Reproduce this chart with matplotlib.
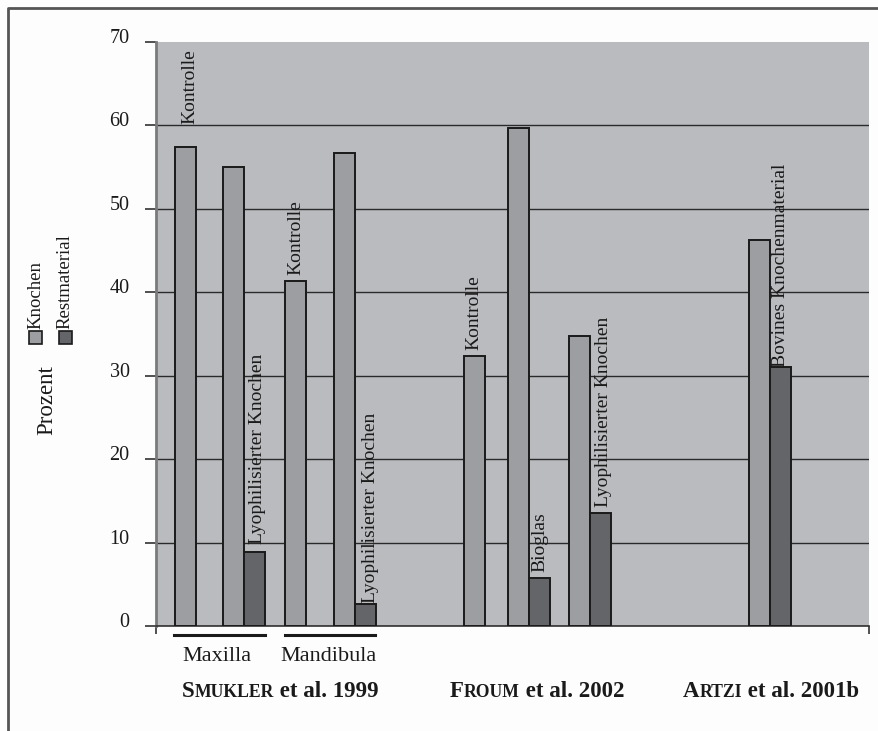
import matplotlib.pyplot as plt
from matplotlib.patches import Rectangle
from matplotlib.transforms import ScaledTranslation

plt.rcParams['font.family'] = ['Liberation Serif', 'DejaVu Serif']

# data (Prozent)
bar_labels = ["Kontrolle", "Lyophilisierter Knochen", "Kontrolle", "Lyophilisierter Knochen",
              "Kontrolle", "Bioglas", "Lyophilisierter Knochen", "Bovines Knochenmaterial"]
knochen = [57.4, 55.0, 41.3, 56.7, 32.4, 59.7, 34.8, 46.3]
restmaterial = [None, 8.85, None, 2.6, None, 5.7, 13.6, 31.0]
subgroups = ["Maxilla", "Mandibula"]
studies = [("S", "MUKLER", " et al. 1999"), ("F", "ROUM", " et al. 2002"), ("A", "RTZI", " et al. 2001b")]

# layout (pixel-like x units of the plot)
x_knochen = [186, 233.5, 296, 345, 474.5, 518.5, 580, 759.5]
bar_w = 21
label_x = [189.5, 257.5, 296, 371, 473.5, 540, 604, 781]
label_y = [60.2, 9.8, 42.1, 2.7, 33.1, 6.5, 14.3, 31.0]

W, H = 879, 731
c_bg = '#babbbf'
c_kn = '#9d9ea2'
c_rest = '#646569'

fig = plt.figure(figsize=(8.79, 7.31), dpi=100, facecolor='#fdfdfd')
ax = fig.add_axes([156 / W, 1 - 626 / H, 713 / W, 584 / H])
ax.set_facecolor(c_bg)


def fx(x):
    return x / W


def fy(y):
    return 1 - y / H


# bars
ax.bar(x_knochen, knochen, width=bar_w, color=c_kn, edgecolor='#1a1a1a', linewidth=1.4, zorder=3)
xr = [x + bar_w for x, v in zip(x_knochen, restmaterial) if v is not None]
vr = [v for v in restmaterial if v is not None]
ax.bar(xr, vr, width=bar_w, color=c_rest, edgecolor='#1a1a1a', linewidth=1.4, zorder=3)

for t, x, y in zip(bar_labels, label_x, label_y):
    ax.text(x, y, t, rotation=90, ha='center', va='bottom', fontsize=14, color='#1a1a1a', zorder=5)

ax.set_xlim(156, 869)
ax.set_ylim(0, 70)
ax.set_yticks(range(0, 80, 10))
ax.set_xticks([156, 869])
ax.set_xticklabels([])
ax.tick_params(axis='y', length=8, width=1.2, color='#333333', labelsize=14.5, pad=11, labelcolor='#1a1a1a')
ax.tick_params(axis='x', length=6, width=1.2, color='#333333')
ax.yaxis.grid(True, color='#2a2a2a', linewidth=1)
ax.get_ygridlines()[-1].set_visible(False)
ax.set_axisbelow(True)
for lab in ax.get_yticklabels():
    lab.set_transform(lab.get_transform() + ScaledTranslation(0, 6 / 100, fig.dpi_scale_trans))

ax.spines['top'].set_visible(False)
ax.spines['right'].set_visible(False)
ax.spines['left'].set_color('#7a7a7a')
ax.spines['left'].set_linewidth(2)
ax.spines['bottom'].set_color('#333333')
ax.spines['bottom'].set_linewidth(1.2)

# Maxilla / Mandibula underlines and names
ax.plot([174, 265], [-1.05, -1.05], color='#1a1a1a', lw=2.2, clip_on=False)
ax.plot([285, 375], [-1.05, -1.05], color='#1a1a1a', lw=2.2, clip_on=False)
fig.text(fx(182), fy(661), subgroups[0], fontsize=16, va='baseline', color='#1a1a1a')
fig.text(fx(280), fy(661), subgroups[1], fontsize=16, va='baseline', color='#1a1a1a')

# study names in small caps
renderer = fig.canvas.get_renderer()
for (first, caps, rest), x0 in zip(studies, [182, 450, 683]):
    x = x0
    for s, size in [(first, 16.5), (caps, 12.7), (rest, 16.5)]:
        t = fig.text(fx(x), fy(697), s, fontsize=size, fontweight='bold', va='baseline', color='#1a1a1a')
        x += t.get_window_extent(renderer).width

# y label and legend
fig.text(fx(47), fy(400), "Prozent", rotation=90, fontsize=16.5, ha='center', va='center', color='#1a1a1a')
fig.patches.append(Rectangle((fx(29), fy(344)), 13 / W, 13 / H, transform=fig.transFigure,
                             facecolor=c_kn, edgecolor='#1a1a1a', lw=1.2))
fig.patches.append(Rectangle((fx(58.5), fy(344)), 13 / W, 13 / H, transform=fig.transFigure,
                             facecolor=c_rest, edgecolor='#1a1a1a', lw=1.2))
fig.text(fx(36), fy(329), "Knochen", rotation=90, fontsize=13.5, ha='center', va='bottom', color='#1a1a1a')
fig.text(fx(65), fy(329), "Restmaterial", rotation=90, fontsize=13.5, ha='center', va='bottom', color='#1a1a1a')

# outer frame
fig.add_artist(plt.Line2D([fx(8), fx(8), 1], [0, fy(8), fy(8)], transform=fig.transFigure,
                          color='#555555', lw=2))

fig.savefig('out.png', dpi=100, facecolor=fig.get_facecolor())
